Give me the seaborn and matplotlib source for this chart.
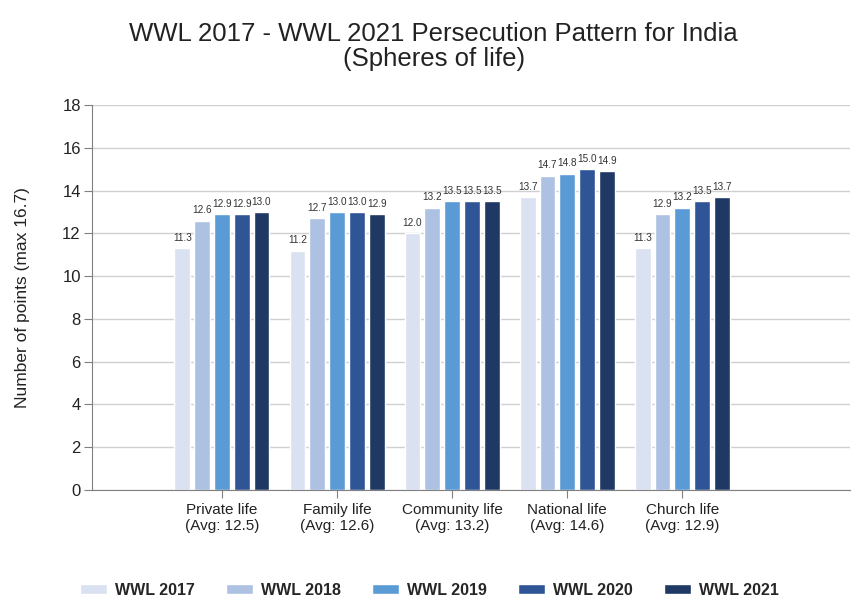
import matplotlib
matplotlib.use("Agg")
import matplotlib.pyplot as plt
import seaborn as sns
import pandas as pd

categories = ["Private life\n(Avg: 12.5)", "Family life\n(Avg: 12.6)", "Community life\n(Avg: 13.2)",
              "National life\n(Avg: 14.6)", "Church life\n(Avg: 12.9)"]
series = ["WWL 2017", "WWL 2018", "WWL 2019", "WWL 2020", "WWL 2021"]
wwl2017 = [11.3, 11.2, 12.0, 13.7, 11.3]
wwl2018 = [12.6, 12.7, 13.2, 14.7, 12.9]
wwl2019 = [12.9, 13.0, 13.5, 14.8, 13.2]
wwl2020 = [12.9, 13.0, 13.5, 15.0, 13.5]
wwl2021 = [13.0, 12.9, 13.5, 14.9, 13.7]
colors = ["#dae1f1", "#adc2e2", "#5b9bd5", "#2f5597", "#1f3864"]

rows = []
for s, vals in zip(series, [wwl2017, wwl2018, wwl2019, wwl2020, wwl2021]):
    for c, v in zip(categories, vals):
        rows.append({"category": c, "series": s, "value": v})
df = pd.DataFrame(rows)

sns.set_style("white")
plt.rcParams["font.family"] = ["Liberation Sans", "DejaVu Sans"]

fig = plt.figure(figsize=(8.59, 5.98), dpi=100)
ax = fig.add_axes([0.107, 0.181, 0.883, 0.643])

sns.barplot(data=df, x="category", y="value", hue="series", palette=colors,
            width=0.86, gap=0.2, ax=ax, legend=True, saturation=1)

for cont in ax.containers:
    ax.bar_label(cont, fmt="%.1f", fontsize=7.2, padding=4, color="#333333")

ax.set_ylim(0, 18)
ax.set_yticks(range(0, 19, 2))
ax.set_xlim(-1.13, 5.46)
ax.yaxis.grid(True, color="#d0d0d0", linewidth=1)
ax.set_axisbelow(True)
for side in ["top", "right"]:
    ax.spines[side].set_visible(False)
ax.spines["left"].set_color("#808080")
ax.spines["bottom"].set_color("#808080")
ax.tick_params(axis="y", left=True, length=6, color="#808080", labelsize=12, labelcolor="#222222", pad=2)
ax.tick_params(axis="x", bottom=True, length=6, color="#808080", labelsize=11, labelcolor="#222222")
ax.set_xlabel("")
ax.set_ylabel("Number of points (max 16.7)", fontsize=12.5, color="#222222", labelpad=23)

fig.suptitle("WWL 2017 - WWL 2021 Persecution Pattern for India\n(Spheres of life)",
             x=0.505, y=0.963, fontsize=18.5, color="#222222", linespacing=1.05)

handles, labels = ax.get_legend_handles_labels()
ax.get_legend().remove()
fig.legend(handles, labels, loc="center", bbox_to_anchor=(0.5, 0.013), ncol=5,
           frameon=False, handlelength=1.7, handleheight=0.55, handletextpad=0.5,
           columnspacing=1.95, prop={"weight": "bold", "size": 11.5})

fig.savefig("out.png", dpi=100)
